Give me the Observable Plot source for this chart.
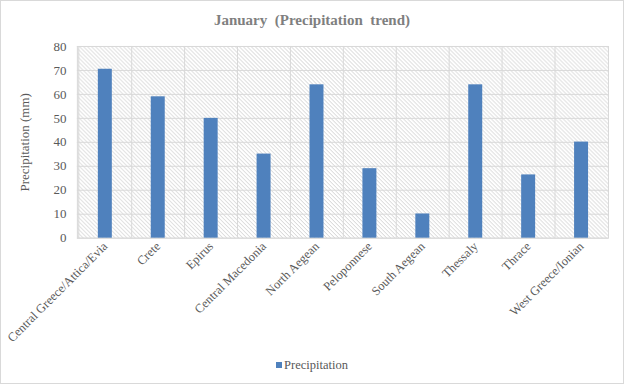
<!DOCTYPE html>
<html>
<head>
<meta charset="utf-8">
<script src="https://cdn.jsdelivr.net/npm/d3@7"></script>
<script src="https://cdn.jsdelivr.net/npm/@observablehq/plot@0.6"></script>
<style>
body{margin:0;background:#fff;}
#wrap{position:relative;width:624px;height:384px;box-sizing:border-box;border:1px solid #d9d9d9;background:#fff;font-family:'Liberation Serif','Times New Roman',serif;overflow:hidden}
#title{position:absolute;left:0;top:11px;width:622px;text-align:center;font-weight:bold;font-size:15px;color:#7f7f7f;white-space:pre}
#chart{position:absolute;left:-1px;top:34px}
#chart svg, #chart svg text{font-family:'Liberation Serif','Times New Roman',serif !important}
#legend{position:absolute;left:0;top:357px;width:622px;text-align:center;font-size:12.5px;color:#595959}
#legend span.sw{display:inline-block;width:6px;height:6px;background:#4f81bd;margin-right:2px;vertical-align:1px}
</style>
</head>
<body>
<div id="wrap">
  <div id="title"></div>
  <div id="chart"></div>
  <div id="legend"></div>
</div>
<script>
const categories = ["Central Greece/Attica/Evia","Crete","Epirus","Central Macedonia","North Aegean","Peloponnese","South Aegean","Thessaly","Thrace","West Greece/Ionian"];
const precipitation = [70.5, 59, 50, 35.1, 64, 29, 10.1, 64, 26.4, 40.1];
const yTicks = [0,10,20,30,40,50,60,70,80];
const titleText = "January  (Precipitation  trend)";
const yLabel = "Precipitation (mm)";
const seriesName = "Precipitation";

const data = categories.map((c,i)=>({region:c, value:precipitation[i]}));

const W = 624, H = 320, mL = 77, mR = 15, mT = 11, mB = 117;
const step = (W - mL - mR) / categories.length;

const plot = Plot.plot({
  width: W, height: H,
  marginLeft: mL, marginRight: mR, marginTop: mT, marginBottom: mB,
  style: {fontFamily: "'Liberation Serif', serif", color: "#595959", background: "transparent"},
  x: {domain: categories, paddingInner: 0.74, paddingOuter: 0.37},
  y: {domain: [0, 80]},
  marks: [
    Plot.frame({fill: "url(#hatch)", stroke: null}),
    Plot.ruleY(yTicks, {y: d=>d, stroke: "#d9d9d9", strokeWidth: 1, strokeOpacity: 1}),
    Plot.ruleX(categories, {x: d=>d, dx: -step/2, stroke: "#d9d9d9", strokeWidth: 1, strokeOpacity: 1}),
    Plot.frame({stroke: "#d9d9d9", strokeWidth: 1}),
    Plot.barY(data, {x: "region", y: "value", fill: "#4f81bd"}),
    Plot.axisY({ticks: yTicks, tickSize: 0, tickPadding: 11, fontSize: 13, label: yLabel, labelAnchor: "center", labelArrow: "none", labelOffset: 58, fill: "#595959"}),
    Plot.axisX({tickSize: 0, tickPadding: 6, tickRotate: -45, fontSize: 12.5, label: null, fill: "#595959"})
  ]
});

const ns = "http://www.w3.org/2000/svg";
const defs = document.createElementNS(ns, "defs");
defs.innerHTML = '<pattern id="hatch" patternUnits="userSpaceOnUse" width="4" height="4">' +
  '<rect width="4" height="4" fill="#ffffff"/>' +
  '<path d="M-1,-1 L5,5 M-1,3 L1,5 M3,-1 L5,1" stroke="#d2d2d2" stroke-width="1"/></pattern>';
plot.insertBefore(defs, plot.firstChild);
plot.setAttribute("font-family", "Liberation Serif, serif");

document.getElementById("chart").appendChild(plot);
document.getElementById("title").textContent = titleText;
document.getElementById("legend").innerHTML = '<span class="sw"></span>' + seriesName;
</script>
</body>
</html>
